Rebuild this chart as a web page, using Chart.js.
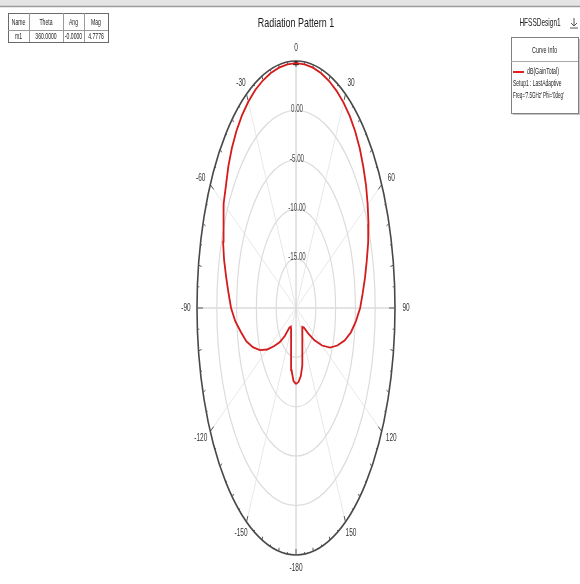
<!DOCTYPE html>
<html>
<head>
<meta charset="utf-8">
<script src="https://cdn.jsdelivr.net/npm/chart.js@4.4.1/dist/chart.umd.min.js"></script>
<style>
  html, body { margin: 0; padding: 0; background: #ffffff; }
  canvas { display: block; }
</style>
</head>
<body>
<canvas id="c" width="580" height="584"></canvas>
<script>
// Theta (deg) and total gain (dB) for the E-plane cut
const thetaDeg = [
  -180, -175, -170, -165, -160, -155, -150, -145, -140, -135, -130, -125,
  -120, -115, -110, -105, -100, -95, -90, -85, -80, -75, -70, -65,
  -60, -55, -50, -45, -40, -35, -30, -25, -20, -15, -10, -5,
  0, 5, 10, 15, 20, 25, 30, 35, 40, 45, 50, 55,
  60, 65, 70, 75, 80, 85, 90, 95, 100, 105, 110, 115,
  120, 125, 130, 135, 140, 145, 150, 155, 160, 165, 170, 175, 180
];
const gainTotalDb = [
  -12.3, -12.6, -13.6, -15.2, -16.4, -17.1, -17.5, -17.7, -17.4, -16.0, -14.6, -13.3,
  -11.6, -9.9, -8.4, -7.0, -5.9, -4.6, -3.6, -2.9, -2.1, -1.2, -0.4, 0.3,
  1.0, 1.6, 2.3, 2.9, 3.4, 3.8, 4.1, 4.35, 4.5, 4.62, 4.7, 4.76,
  4.7776, 4.76, 4.70, 4.6, 4.45, 4.25, 4.0, 3.7, 3.3, 2.8, 2.2, 1.6,
  0.9, 0.2, -0.6, -1.5, -2.3, -3.1, -3.8, -4.8, -5.9, -7.3, -8.9, -10.5,
  -12.4, -14.3, -16.0, -17.2, -17.5, -17.3, -16.8, -16.1, -15.2, -14.0, -13.0, -12.5, -12.3
];

// Radial axis (dB) and its labelled rings
const radialMin = -20;
const radialMax = 5;
const radialTicks = [0, -5, -10, -15];
const radialTickLabels = ["0.00", "-5.00", "-10.00", "-15.00"];

// Angular labels around the rim
const angleTicks = [0, 30, 60, 90, 120, 150, 180, -150, -120, -90, -60, -30];
const angleTickLabels = ["0", "30", "60", "90", "120", "150", "-180", "-150", "-120", "-90", "-60", "-30"];

// Marker table
const markerHeader = ["Name", "Theta", "Ang", "Mag"];
const markerRow = ["m1", "360.0000", "-0.0000", "4.7776"];
const markerTheta = 0;
const markerDb = 4.7776;

// Legend
const designName = "HFSSDesign1";
const curveName = "dB(GainTotal)";
const curveSetup = "Setup1 : LastAdaptive";
const curveSweep = "Freq='7.5GHz' Phi='0deg'";
const chartTitle = "Radiation Pattern 1";

function toXY(th, db) {
  const r = (db - radialMin) / (radialMax - radialMin);
  const a = th * Math.PI / 180;
  return { x: r * Math.sin(a), y: r * Math.cos(a) };
}

const curvePoints = thetaDeg.map((t, i) => toXY(t, gainTotalDb[i]));
const markerPoint = [toXY(markerTheta, markerDb)];

// Narrow text: draw at a given size and squeeze horizontally
function ntext(ctx, str, x, y, size, align, color, sx, weight) {
  ctx.save();
  ctx.translate(x, y);
  ctx.scale(sx, 1);
  ctx.font = (weight || "normal") + " " + size + "px 'Liberation Sans', Arial, sans-serif";
  ctx.textAlign = align;
  ctx.textBaseline = "middle";
  ctx.fillStyle = color;
  ctx.fillText(str, 0, 0);
  ctx.restore();
}

const polarFrame = {
  id: "polarFrame",
  beforeDatasetsDraw(chart) {
    const ctx = chart.ctx;
    const xs = chart.scales.x, ys = chart.scales.y;
    const cx = xs.getPixelForValue(0), cy = ys.getPixelForValue(0);
    const RX = xs.getPixelForValue(1) - cx;
    const RY = cy - ys.getPixelForValue(1);
    ctx.save();

    // window strip along the top
    ctx.fillStyle = "#e4e4e4";
    ctx.fillRect(0, 0, chart.width, 6);
    ctx.strokeStyle = "#9c9c9c";
    ctx.lineWidth = 1.5;
    ctx.beginPath(); ctx.moveTo(0, 6.5); ctx.lineTo(chart.width, 6.5); ctx.stroke();

    // spokes every 30 deg
    ctx.strokeStyle = "#e8e8e8";
    ctx.lineWidth = 1;
    for (let t = 0; t < 360; t += 30) {
      const a = t * Math.PI / 180;
      ctx.beginPath();
      ctx.moveTo(cx, cy);
      ctx.lineTo(cx + RX * Math.sin(a), cy - RY * Math.cos(a));
      ctx.stroke();
    }
    // cross at 0/90
    ctx.strokeStyle = "#d4d4d4";
    ctx.beginPath();
    ctx.moveTo(cx, cy - RY); ctx.lineTo(cx, cy + RY);
    ctx.moveTo(cx - RX, cy); ctx.lineTo(cx + RX, cy);
    ctx.stroke();

    // dB rings
    ctx.strokeStyle = "#dcdcdc";
    ctx.lineWidth = 1.2;
    radialTicks.forEach(v => {
      const r = (v - radialMin) / (radialMax - radialMin);
      ctx.beginPath();
      ctx.ellipse(cx, cy, RX * r, RY * r, 0, 0, Math.PI * 2);
      ctx.stroke();
    });

    // outer rim
    ctx.strokeStyle = "#484848";
    ctx.lineWidth = 1.6;
    ctx.beginPath();
    ctx.ellipse(cx, cy, RX, RY, 0, 0, Math.PI * 2);
    ctx.stroke();

    // rim ticks
    ctx.strokeStyle = "#5a5a5a";
    ctx.lineWidth = 1;
    for (let t = 0; t < 360; t += 5) {
      const a = t * Math.PI / 180;
      const px = cx + RX * Math.sin(a), py = cy - RY * Math.cos(a);
      let dx = cx - px, dy = cy - py;
      const d = Math.hypot(dx, dy); dx /= d; dy /= d;
      const L = (t % 30 === 0) ? 6 : (t % 10 === 0 ? 3.5 : 2);
      ctx.beginPath();
      ctx.moveTo(px, py);
      ctx.lineTo(px + dx * L, py + dy * L);
      ctx.stroke();
    }

    // ring labels along the 0-deg spoke
    radialTicks.forEach((v, i) => {
      const r = (v - radialMin) / (radialMax - radialMin);
      ntext(ctx, radialTickLabels[i], cx + 1, cy - RY * r - 1, 10, "center", "#444444", 0.62);
    });

    // angle labels outside the rim
    angleTicks.forEach((t, i) => {
      const a = t * Math.PI / 180;
      const px = cx + RX * Math.sin(a), py = cy - RY * Math.cos(a);
      ntext(ctx, angleTickLabels[i], px + 11 * Math.sin(a), py - 13 * Math.cos(a), 10.5, "center", "#333333", 0.62);
    });
    ctx.restore();
  },
  afterDatasetsDraw(chart) {
    const ctx = chart.ctx;
    ctx.save();
    // title
    ntext(ctx, chartTitle, 296, 23, 13.5, "center", "#1a1a1a", 0.66);

    // marker table
    const tx = [8, 29, 63, 84, 108];
    const top = 13, mid = 30, bot = 42;
    ctx.fillStyle = "#ffffff";
    ctx.fillRect(tx[0], top, tx[4] - tx[0], bot - top);
    ctx.strokeStyle = "#6a6a6a";
    ctx.lineWidth = 1;
    ctx.strokeRect(tx[0] + 0.5, top + 0.5, tx[4] - tx[0], bot - top);
    ctx.strokeStyle = "#9a9a9a";
    ctx.beginPath();
    ctx.moveTo(tx[0], mid + 0.5); ctx.lineTo(tx[4], mid + 0.5);
    for (let i = 1; i < 4; i++) { ctx.moveTo(tx[i] + 0.5, top); ctx.lineTo(tx[i] + 0.5, bot); }
    ctx.stroke();
    for (let i = 0; i < 4; i++) {
      const mx = (tx[i] + tx[i + 1]) / 2;
      ntext(ctx, markerHeader[i], mx, (top + mid) / 2 + 1, 8.5, "center", "#222222", 0.6);
      ntext(ctx, markerRow[i], mx, (mid + bot) / 2 + 1, 8.5, "center", "#222222", 0.6);
    }

    // design name + logo
    ntext(ctx, designName, 540, 23, 10.5, "center", "#222222", 0.62);
    ctx.strokeStyle = "#555555";
    ctx.lineWidth = 1;
    ctx.beginPath();
    ctx.moveTo(570, 28); ctx.lineTo(578, 28);
    ctx.moveTo(574, 18); ctx.lineTo(574, 26);
    ctx.moveTo(571, 23); ctx.lineTo(574, 26); ctx.lineTo(577, 23);
    ctx.stroke();

    // curve info box
    const lx = 511, ly = 37, lw = 67, lh = 76;
    ctx.fillStyle = "#c4c4c4";
    ctx.fillRect(lx + 2, ly + 2, lw, lh);
    ctx.fillStyle = "#ffffff";
    ctx.fillRect(lx, ly, lw, lh);
    ctx.strokeStyle = "#808080";
    ctx.strokeRect(lx + 0.5, ly + 0.5, lw, lh);
    ctx.strokeStyle = "#a8a8a8";
    ctx.beginPath(); ctx.moveTo(lx, 61.5); ctx.lineTo(lx + lw, 61.5); ctx.stroke();
    ntext(ctx, "Curve Info", lx + lw / 2, 51, 9, "center", "#222222", 0.6);
    ctx.strokeStyle = "#e02020";
    ctx.lineWidth = 2;
    ctx.beginPath(); ctx.moveTo(lx + 2, 72); ctx.lineTo(lx + 13, 72); ctx.stroke();
    ntext(ctx, curveName, lx + 16, 72, 9, "left", "#222222", 0.58);
    ntext(ctx, curveSetup, lx + 2, 84, 9, "left", "#222222", 0.55);
    ntext(ctx, curveSweep, lx + 2, 96, 9, "left", "#222222", 0.5);
    ctx.restore();
  }
};

new Chart(document.getElementById("c"), {
  type: "scatter",
  data: {
    datasets: [
      {
        label: curveName,
        data: curvePoints,
        showLine: true,
        borderColor: "#d41c1c",
        borderWidth: 1.8,
        pointRadius: 0,
        tension: 0,
        fill: false
      },
      {
        label: "m1",
        data: markerPoint,
        pointStyle: "triangle",
        pointRadius: 3,
        backgroundColor: "#222222",
        borderColor: "#222222",
        showLine: false
      }
    ]
  },
  options: {
    responsive: false,
    animation: false,
    devicePixelRatio: 1,
    layout: { padding: { left: 197, right: 185, top: 61, bottom: 29 } },
    scales: {
      x: { type: "linear", min: -1, max: 1, display: false },
      y: { type: "linear", min: -1, max: 1, display: false }
    },
    plugins: {
      legend: { display: false },
      tooltip: { enabled: false },
      title: { display: false }
    }
  },
  plugins: [polarFrame]
});
</script>
</body>
</html>
